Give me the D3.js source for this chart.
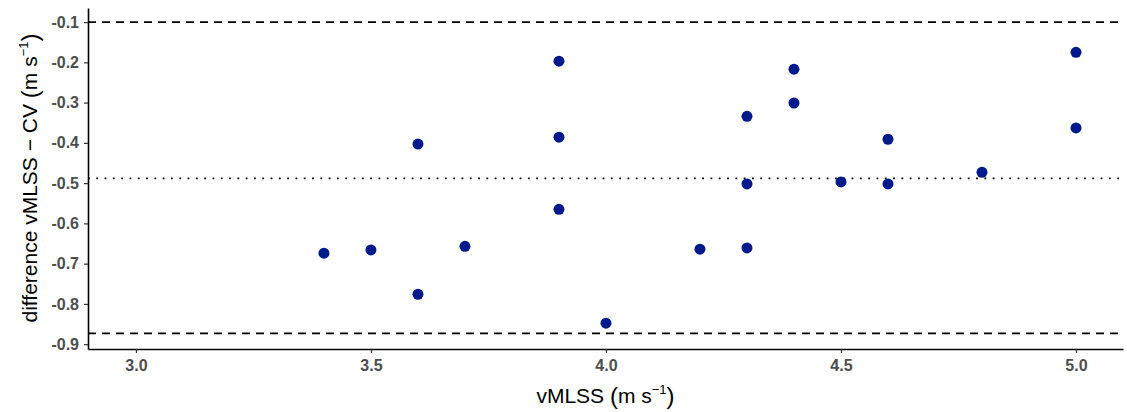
<!DOCTYPE html>
<html>
<head>
<meta charset="utf-8">
<script src="https://cdn.jsdelivr.net/npm/d3@7"></script>
<style>
  body { margin: 0; background: #fff; }
  svg { display: block; font-family: "Liberation Sans", Arial, sans-serif; }
</style>
</head>
<body>
<div id="chart"></div>
<script>
var width = 1127;
var height = 412;
var margin = { left: 88, right: 4, top: 8, bottom: 63 };
var pointColor = '#001a8c';
var tickColor = '#4d4d4d';

// data
var vmlss = [3.4, 3.5, 3.6, 3.6, 3.7, 3.9, 3.9, 3.9, 4.0, 4.2, 4.3, 4.3, 4.3, 4.4, 4.4, 4.5, 4.6, 4.6, 4.8, 5.0, 5.0];
var difference = [-0.674, -0.666, -0.403, -0.776, -0.657, -0.197, -0.386, -0.565, -0.848, -0.664, -0.334, -0.502, -0.661, -0.217, -0.301, -0.497, -0.391, -0.502, -0.473, -0.175, -0.363];
var meanDiff = -0.488;
var limitsOfAgreement = [-0.100, -0.873];
var xTicks = [3.0, 3.5, 4.0, 4.5, 5.0];
var yTicks = [-0.1, -0.2, -0.3, -0.4, -0.5, -0.6, -0.7, -0.8, -0.9];

var svg = d3.select('#chart').append('svg')
      .attr('width', width)
      .attr('height', height);

var xScale = d3.scaleLinear()
      .domain([2.898, 5.1])
      .range([margin.left, width - margin.right]);

var yScale = d3.scaleLinear()
      .domain([-0.065, -0.912])
      .range([margin.top, height - margin.bottom]);

// axes
var xAxis = d3.axisBottom(xScale)
      .tickValues(xTicks)
      .tickFormat(d3.format('.1f'))
      .tickSizeInner(4)
      .tickSizeOuter(0)
      .tickPadding(4);

var yAxis = d3.axisLeft(yScale)
      .tickValues(yTicks)
      .tickFormat(function(d) { return d3.format('.1f')(d).replace('−', '-'); })
      .tickSizeInner(4)
      .tickSizeOuter(0)
      .tickPadding(5);

var xAxisGroup = svg.append('g')
      .attr('transform', 'translate(0,' + (height - margin.bottom) + ')')
      .call(xAxis);
var yAxisGroup = svg.append('g')
      .attr('transform', 'translate(' + margin.left + ',0)')
      .call(yAxis);

[xAxisGroup, yAxisGroup].forEach(function(g) {
      g.attr('font-size', null).attr('font-family', null);
      g.select('.domain').attr('stroke', '#000').attr('stroke-width', 1.6);
      g.selectAll('.tick line').attr('stroke', '#333').attr('stroke-width', 1.2);
      g.selectAll('.tick text')
            .attr('fill', tickColor)
            .attr('font-size', 16)
            .attr('font-weight', 'bold');
});
xAxisGroup.selectAll('.tick text').attr('dy', '0.9em');

// reference lines
var x0 = margin.left, x1 = width - margin.right;
svg.selectAll('.loa')
      .data(limitsOfAgreement)
      .enter()
      .append('line')
            .attr('class', 'loa')
            .attr('x1', x0).attr('x2', x1)
            .attr('y1', d => yScale(d)).attr('y2', d => yScale(d))
            .attr('stroke', '#000')
            .attr('stroke-width', 1.8)
            .attr('stroke-dasharray', '8,6');

svg.append('line')
      .attr('x1', x0).attr('x2', x1)
      .attr('y1', yScale(meanDiff)).attr('y2', yScale(meanDiff))
      .attr('stroke', '#000')
      .attr('stroke-width', 1.8)
      .attr('stroke-dasharray', '1.8,6.5');

// points
svg.append('g').selectAll('circle')
      .data(d3.range(vmlss.length))
      .enter()
      .append('circle')
            .attr('cx', i => xScale(vmlss[i]))
            .attr('cy', i => yScale(difference[i]))
            .attr('r', 5.5)
            .attr('fill', pointColor);

// axis titles, with unit "(m s^-1)"
function addUnitTitle(text, label) {
      text.append('tspan').text(label + ' ');
      text.append('tspan').style('font-size', '24px').attr('dy', 1).text('(');
      text.append('tspan').attr('dy', -1).text('m s');
      text.append('tspan').style('font-size', '13px').attr('dy', -9).text('−1');
      text.append('tspan').style('font-size', '24px').attr('dy', 10).text(')');
}

var xTitle = svg.append('text')
      .attr('x', (x0 + x1) / 2)
      .attr('y', 403)
      .style('text-anchor', 'middle')
      .style('font-size', '21px')
      .attr('fill', '#000');
addUnitTitle(xTitle, 'vMLSS');

var yTitle = svg.append('text')
      .attr('transform', 'translate(37,178) rotate(-90)')
      .style('text-anchor', 'middle')
      .style('font-size', '21px')
      .attr('fill', '#000');
addUnitTitle(yTitle, 'difference vMLSS − CV');
</script>
</body>
</html>
